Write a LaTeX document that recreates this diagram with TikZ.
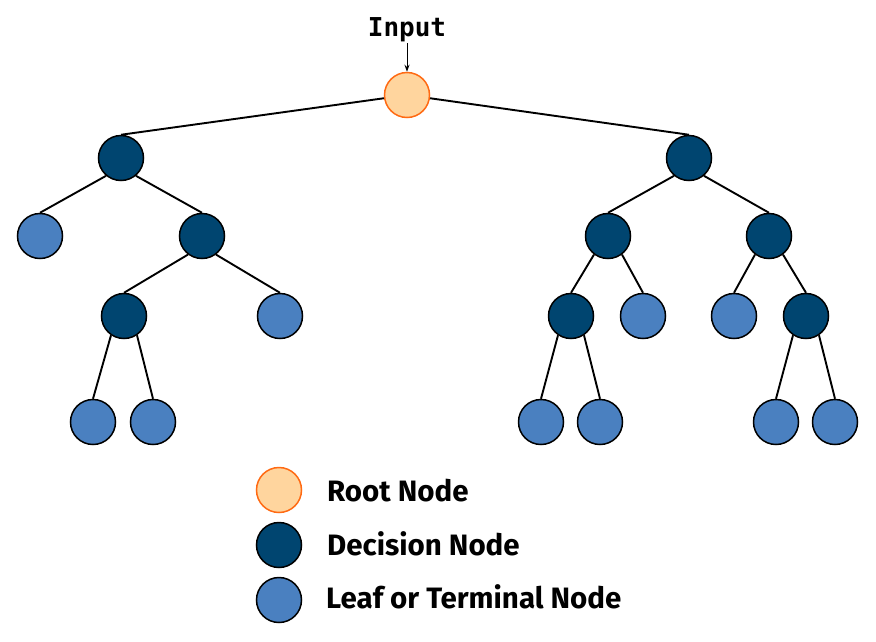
\documentclass[tikz,border=0pt]{standalone}
\usepackage{fontspec}
\setmainfont{Fira Sans}
\newfontfamily\inputfont[BoldFont={DejaVu Sans Mono Bold}]{DejaVu Sans Mono}
\usetikzlibrary{arrows.meta}
\definecolor{rootfill}{HTML}{FFD59E}
\definecolor{rootline}{HTML}{FF6A13}
\definecolor{decfill}{HTML}{004570}
\definecolor{leaffill}{HTML}{4A80C0}
\begin{document}
\begin{tikzpicture}[x=1pt,y=-1pt,
  base/.style={circle,minimum size=45pt,inner sep=0pt,line width=1.5pt},
  rootnode/.style={base,draw=rootline,fill=rootfill},
  decnode/.style={base,draw=black,fill=decfill},
  leafnode/.style={base,draw=black,fill=leaffill},
  edge/.style={line width=1.9pt,black},
  lbl/.style={anchor=base west,inner sep=0pt,font=\fontsize{29.5}{32}\selectfont\bfseries}]
\useasboundingbox (0,0) rectangle (876,641);
% tree nodes
\node[rootnode] (root) at (407,95) {};
\node[decnode] (L1) at (121,158) {};
\node[decnode] (R1) at (689,158) {};
\node[leafnode] (LL) at (40,236) {};
\node[decnode] (LR) at (202,236) {};
\node[decnode] (RL) at (608,236) {};
\node[decnode] (RR) at (769,236) {};
\node[decnode] (LRL) at (124,316) {};
\node[leafnode] (LRR) at (280,316) {};
\node[decnode] (RLL) at (571,316) {};
\node[leafnode] (RLR) at (643,316) {};
\node[leafnode] (RRL) at (734,316) {};
\node[decnode] (RRR) at (806,316) {};
\node[leafnode] (A1) at (93,422) {};
\node[leafnode] (A2) at (153,422) {};
\node[leafnode] (B1) at (541,422) {};
\node[leafnode] (B2) at (600,422) {};
\node[leafnode] (C1) at (776,422) {};
\node[leafnode] (C2) at (835,422) {};
% input
\node[anchor=base,inner sep=0pt,font=\inputfont\bfseries\fontsize{26}{30}\selectfont] (input) at (407,36) {Input};
\coordinate (arrS) at (407,43);
\draw[line width=1pt,-{Stealth[length=7pt,width=5pt]}] (arrS) -- (root.north);
% edges
\draw[edge] (root.188) -- (L1.north);
\draw[edge] (root.352) -- (R1.north);
\draw[edge] (L1.230) -- (LL.north);
\draw[edge] (L1.310) -- (LR.north);
\draw[edge] (R1.230) -- (RL.north);
\draw[edge] (R1.310) -- (RR.north);
\draw[edge] (LR.233) -- (LRL.north);
\draw[edge] (LR.307) -- (LRR.north);
\draw[edge] (RL.233) -- (RLL.north);
\draw[edge] (RL.307) -- (RLR.north);
\draw[edge] (RR.233) -- (RRL.north);
\draw[edge] (RR.307) -- (RRR.north);
\draw[edge] (LRL.236) -- (A1.north);
\draw[edge] (LRL.304) -- (A2.north);
\draw[edge] (RLL.236) -- (B1.north);
\draw[edge] (RLL.304) -- (B2.north);
\draw[edge] (RRR.236) -- (C1.north);
\draw[edge] (RRR.304) -- (C2.north);
% legend
\node[rootnode] (kroot) at (279,490) {};
\node[decnode] (kdec) at (279,545) {};
\node[leafnode] (kleaf) at (279,600) {};
\node[lbl] (troot) at (327,501) {Root Node};
\node[lbl] (tdec) at (327,555) {Decision Node};
\node[lbl] (tleaf) at (326,608) {Leaf or Terminal Node};
\end{tikzpicture}
\end{document}
